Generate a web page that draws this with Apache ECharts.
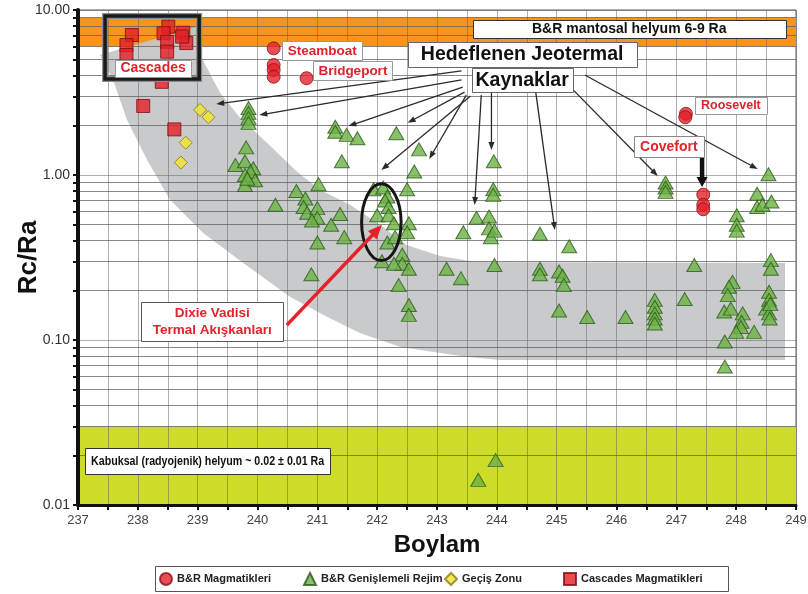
<!DOCTYPE html>
<html>
<head>
<meta charset="utf-8">
<script src="https://cdn.jsdelivr.net/npm/echarts@6/dist/echarts.min.js"></script>
<style>
  html, body { margin: 0; padding: 0; background: #fff; }
  #chart { width: 808px; height: 594px; }
</style>
</head>
<body>
<div id="chart"></div>
<script>
// ---- Data: [longitude, Rc/Ra] ----
const brMagmatic = [
  [240.27, 5.86], [240.27, 4.64], [240.27, 4.33], [240.27, 3.94], // Steamboat
  [240.82, 3.86],                                                  // Bridgeport
  [247.16, 2.35], [247.15, 2.24],                                  // Roosevelt
  [247.45, 0.76], [247.45, 0.66], [247.45, 0.62]                   // Cove Fort
];

const brExtension = [
  [239.85, 2.55], [239.85, 2.38], [239.85, 2.22], [239.85, 2.07],
  [239.81, 1.47], [239.63, 1.15], [239.79, 1.21], [239.93, 1.10], [239.88, 1.05],
  [239.79, 1.00], [239.96, 0.93], [239.79, 0.87], [239.83, 0.95],
  [240.30, 0.66], [240.65, 0.80], [240.80, 0.72], [241.02, 0.88], [240.77, 0.64],
  [240.83, 0.59], [241.00, 0.63], [241.00, 0.55], [240.91, 0.53], [241.23, 0.50],
  [241.38, 0.58], [241.00, 0.39], [241.45, 0.42], [240.90, 0.25],
  [241.30, 1.96], [241.30, 1.83], [241.49, 1.75], [241.67, 1.67], [241.41, 1.21],
  [242.32, 1.79], [242.70, 1.43], [242.62, 1.05], [242.50, 0.82], [241.94, 0.82],
  [242.10, 0.84], [242.17, 0.74], [242.13, 0.70], [242.19, 0.64], [242.00, 0.57],
  [242.19, 0.57], [242.28, 0.51], [242.17, 0.39], [242.08, 0.30], [242.53, 0.51],
  [242.50, 0.45], [242.30, 0.42], [242.42, 0.33], [242.42, 0.29], [242.53, 0.27],
  [242.28, 0.29], [242.36, 0.215], [242.53, 0.163], [242.53, 0.142],
  [243.16, 0.27], [243.40, 0.237], [243.44, 0.45], [243.66, 0.55], [243.87, 0.56],
  [243.87, 0.475], [243.90, 0.42], [243.96, 0.46], [243.95, 1.21], [243.94, 0.82],
  [243.94, 0.76], [243.96, 0.285],
  [244.72, 0.44], [245.21, 0.37], [244.72, 0.27], [244.72, 0.25], [245.04, 0.26],
  [245.10, 0.245], [245.12, 0.215], [245.04, 0.151], [245.51, 0.138],
  [246.15, 0.138], [246.64, 0.175], [246.64, 0.159], [246.64, 0.145], [246.64, 0.135],
  [246.64, 0.126], [247.14, 0.177], [247.30, 0.285], [246.82, 0.90], [246.82, 0.84],
  [246.82, 0.79],
  [248.01, 0.57], [248.01, 0.50], [248.01, 0.46], [248.35, 0.77], [248.35, 0.64],
  [248.44, 0.66], [248.59, 0.69], [248.54, 1.01], [248.58, 0.305], [248.58, 0.27],
  [248.55, 0.196], [248.55, 0.175], [248.50, 0.155], [248.55, 0.145], [248.56, 0.135],
  [248.57, 0.165],
  [247.94, 0.225], [247.88, 0.21], [247.86, 0.187], [247.80, 0.149], [247.91, 0.155],
  [248.11, 0.145], [248.09, 0.129], [248.08, 0.12], [248.00, 0.112], [248.30, 0.112],
  [247.81, 0.098], [247.81, 0.069],
  [243.69, 0.0142], [243.98, 0.0187]
];

const transitionZone = [
  [239.04, 2.48], [239.18, 2.24], [238.80, 1.57], [238.72, 1.19]
];

const cascades = [
  [237.90, 7.05], [237.81, 6.13], [237.81, 5.34],
  [238.51, 7.92], [238.43, 7.23], [238.49, 6.42], [238.49, 5.59],
  [238.76, 7.28], [238.81, 6.30], [238.74, 6.90],
  [238.40, 3.67], [238.09, 2.62], [238.61, 1.89]
];

// Trend envelope (gray band), outline in [longitude, Rc/Ra]
const bandUpper = [
  [237.368, 5.337], [238.975, 7.89], [239.042, 5.337], [239.377, 3.14], [239.711, 2.216],
  [240.163, 1.563], [240.665, 1.043], [241.050, 0.811], [241.552, 0.658], [242.054, 0.498],
  [242.490, 0.377], [243.059, 0.323], [243.644, 0.297], [248.816, 0.293]
];
const bandLower = [
  [248.816, 0.0757], [244.063, 0.0757], [243.51, 0.0789], [242.94, 0.0846], [242.39, 0.0907],
  [241.72, 0.110], [241.167, 0.1377], [240.548, 0.1822], [239.762, 0.293], [239.092, 0.445],
  [238.54, 0.706], [238.155, 1.233], [237.82, 2.154], [237.586, 3.765]
];

// Reference ranges
const mantleRange = [6, 9];      // B&R mantle helium, Ra
const crustRange = [0.01, 0.03]; // crustal (radiogenic) helium, Ra

// Axis ticks
const xRange = [237, 249];
const yTickValues = [
  0.01, 0.02, 0.03, 0.04, 0.05, 0.06, 0.07, 0.08, 0.09,
  0.1, 0.2, 0.3, 0.4, 0.5, 0.6, 0.7, 0.8, 0.9,
  1, 2, 3, 4, 5, 6, 7, 8, 9, 10
];
const yLabelValues = [0.01, 0.1, 1, 10];
const yMinorGrid = yTickValues.filter(v => yLabelValues.indexOf(v) < 0);

// Annotation anchors in data coordinates
const kaynaklarArrows = [
  [[243.41, 4.27], [239.31, 2.69]],
  [[243.41, 3.77], [240.03, 2.31]],
  [[243.43, 3.41], [241.52, 1.98]],
  [[243.46, 3.18], [242.51, 2.07]],
  [[243.49, 3.05], [242.87, 1.25]],
  [[243.56, 3.01], [242.07, 1.072]],
  [[243.74, 3.05], [243.63, 0.658]],
  [[243.91, 3.14], [243.91, 1.417]],
  [[244.65, 3.18], [244.97, 0.464]],
  [[245.28, 3.27], [246.69, 0.986]],
  [[245.47, 4.04], [248.36, 1.086]]
];
const coveFortArrow = [[247.43, 1.27], [247.43, 0.846]];
const dixieArrow = [[240.49, 0.123], [242.08, 0.497]];
const dixieEllipse = { left: 241.74, right: 242.40, top: 0.884, bottom: 0.303 };
const cascadesFrame = { left: 237.452, right: 239.025, top: 9.20, bottom: 3.82 };

const FONT = "'Liberation Sans', Arial, Helvetica, sans-serif";
const RED = '#e0232b';

const labels = [
  { at: [246.213, 7.67], w: 313, h: 18, text: 'B&R mantosal helyum 6-9 Ra', size: 14, color: '#111', border: '#333' },
  { at: [238.255, 4.45], w: 76, h: 17, text: 'Cascades', size: 14, color: RED, border: '#999' },
  { at: [241.084, 5.68], w: 80, h: 19, text: 'Steamboat', size: 13.5, color: RED, border: '#999' },
  { at: [241.594, 4.30], w: 79, h: 19, text: 'Bridgeport', size: 13.5, color: RED, border: '#999' },
  { at: [244.423, 5.37], w: 229, h: 25, text: 'Hedeflenen Jeotermal', size: 19.5, color: '#111', border: '#666' },
  { at: [244.423, 3.77], w: 101, h: 24, text: 'Kaynaklar', size: 19.5, color: '#111', border: '#666' },
  { at: [247.912, 2.64], w: 72, h: 17, text: 'Roosevelt', size: 12.5, color: RED, border: '#999' },
  { at: [246.874, 1.49], w: 70, h: 21, text: 'Covefort', size: 14, color: RED, border: '#888' },
  { at: [239.243, 0.1295], w: 142, h: 39, text: 'Dixie Vadisi\nTermal Akışkanları', size: 13.5, color: RED, border: '#555' },
  { at: [239.167, 0.01848], w: 245, h: 26, text: 'Kabuksal (radyojenik) helyum ~ 0.02 ± 0.01 Ra', size: 13.5, color: '#111', border: '#333', squeeze: 0.79 }
];

// Legend entries and the left edge of each entry's icon
const legendItems = [
  { name: 'B&R Magmatikleri', icon: 'circle', left: 159 },
  { name: 'B&R Genişlemeli Rejim', icon: 'triangle', left: 303 },
  { name: 'Geçiş Zonu', icon: 'diamond', left: 444 },
  { name: 'Cascades Magmatikleri', icon: 'rect', left: 563 }
];
const legendFrame = { x: 155, y: 566, w: 573, h: 25 };

const chart = echarts.init(document.getElementById('chart'), null, { renderer: 'canvas' });

const gridLineColor = 'rgba(95,95,95,0.5)';

const option = {
  animation: false,
  backgroundColor: '#fff',
  textStyle: { fontFamily: FONT },
  grid: {
    left: 78, right: 12, top: 10, bottom: 89,
    containLabel: false,
    outerBoundsMode: 'none',
    show: true, borderColor: '#555', borderWidth: 1, backgroundColor: '#fff'
  },
  legend: legendItems.map(it => ({
    left: it.left, top: 572,
    padding: 0,
    itemGap: 0,
    itemWidth: 12, itemHeight: 12,
    textStyle: { fontSize: 11, fontWeight: 'bold', color: '#222', fontFamily: FONT },
    data: [{ name: it.name, icon: it.icon }]
  })),
  xAxis: {
    type: 'value',
    min: xRange[0], max: xRange[1], interval: 0.5,
    z: 3,
    name: 'Boylam', nameLocation: 'middle', nameGap: 28, nameMoveOverlap: false,
    nameTextStyle: { fontSize: 24, fontWeight: 'bold', color: '#111', fontFamily: FONT },
    axisLine: { show: true, onZero: false, lineStyle: { color: '#111', width: 3 } },
    axisTick: { show: true, length: 5, lineStyle: { color: '#111', width: 2 } },
    axisLabel: {
      color: '#444', fontSize: 13, margin: 9, fontFamily: FONT,
      formatter: v => (Math.abs(v - Math.round(v)) < 1e-9 ? String(Math.round(v)) : '')
    },
    splitLine: { show: true, lineStyle: { color: gridLineColor, width: 1 } }
  },
  yAxis: {
    type: 'log', logBase: 10,
    min: 0.01, max: 10,
    z: 3,
    name: 'Rc/Ra', nameLocation: 'middle', nameGap: 36, nameMoveOverlap: false,
    nameTextStyle: { fontSize: 26, fontWeight: 'bold', color: '#111', fontFamily: FONT },
    axisLine: { show: true, onZero: false, lineStyle: { color: '#111', width: 4 } },
    axisTick: { show: true, length: 5, customValues: yTickValues, lineStyle: { color: '#111', width: 2 } },
    axisLabel: {
      customValues: yLabelValues, color: '#333', fontSize: 14, margin: 8, fontFamily: FONT,
      formatter: v => Number(v).toFixed(2)
    },
    splitLine: { show: true, lineStyle: { color: gridLineColor, width: 1 } }
  },
  series: [
    {
      // reference helium ranges and minor log grid lines
      type: 'custom',
      name: 'ranges',
      z: 1,
      silent: true,
      data: [],
      renderItem: () => null,
      markArea: {
        silent: true,
        z: 1,
        data: [
          [{ yAxis: mantleRange[0], itemStyle: { color: '#f7941d' } }, { yAxis: mantleRange[1] }],
          [{ yAxis: crustRange[0], itemStyle: { color: '#cddc29' } }, { yAxis: crustRange[1] }]
        ]
      },
      markLine: {
        silent: true,
        z: 3,
        symbol: 'none',
        label: { show: false },
        lineStyle: { color: gridLineColor, width: 1, type: 'solid' },
        emphasis: { disabled: true },
        data: yMinorGrid.map(v => ({ yAxis: v }))
      }
    },
    {
      // curved gray trend envelope
      type: 'custom',
      name: 'band',
      z: 2,
      silent: true,
      data: [0],
      renderItem: (params, api) => {
        const pts = bandUpper.concat(bandLower).map(p => api.coord(p));
        return {
          type: 'polygon',
          shape: { points: pts, smooth: 0 },
          style: { fill: 'rgba(196,197,200,0.92)' }
        };
      }
    },
    {
      name: 'B&R Magmatikleri',
      type: 'scatter',
      z: 5,
      symbol: 'circle',
      symbolSize: 13,
      itemStyle: { color: '#e3202a', borderColor: '#8c1016', borderWidth: 1 },
      data: brMagmatic
    },
    {
      name: 'B&R Genişlemeli Rejim',
      type: 'scatter',
      z: 5,
      symbol: 'triangle',
      symbolSize: [15, 13],
      itemStyle: { color: '#6cb244', borderColor: '#2c5a1a', borderWidth: 1 },
      data: brExtension
    },
    {
      name: 'Geçiş Zonu',
      type: 'scatter',
      z: 5,
      symbol: 'diamond',
      symbolSize: 13,
      itemStyle: { color: '#f3e52b', borderColor: '#8a7b12', borderWidth: 1 },
      data: transitionZone
    },
    {
      name: 'Cascades Magmatikleri',
      type: 'scatter',
      z: 5,
      symbol: 'rect',
      symbolSize: 13,
      itemStyle: { color: '#e31e25', borderColor: '#7a0f12', borderWidth: 1 },
      data: cascades
    }
  ]
};

chart.setOption(option);

// ---- Annotations (placed through the chart's own coordinate system) ----
const toPx = p => chart.convertToPixel({ gridIndex: 0 }, p);

function arrow(a, b, color, lw, hl, hw) {
  const dx = b[0] - a[0], dy = b[1] - a[1];
  const L = Math.hypot(dx, dy), ux = dx / L, uy = dy / L;
  const base = [b[0] - ux * hl, b[1] - uy * hl];
  return [
    { type: 'line', z: 100, silent: true,
      shape: { x1: a[0], y1: a[1], x2: base[0] + ux, y2: base[1] + uy },
      style: { stroke: color, lineWidth: lw } },
    { type: 'polygon', z: 100, silent: true,
      shape: { points: [b, [base[0] - uy * hw / 2, base[1] + ux * hw / 2], [base[0] + uy * hw / 2, base[1] - ux * hw / 2]] },
      style: { fill: color } }
  ];
}

const els = [];

// Legend frame around the four legend entries
els.push({ type: 'rect', z: 50, silent: true,
  shape: { x: legendFrame.x + 0.5, y: legendFrame.y + 0.5, width: legendFrame.w, height: legendFrame.h },
  style: { fill: null, stroke: '#555', lineWidth: 1 } });

// Cascades frame: heavy dark border with light outline
{
  const tl = toPx([cascadesFrame.left, cascadesFrame.top]);
  const br = toPx([cascadesFrame.right, cascadesFrame.bottom]);
  els.push({ type: 'rect', z: 90, silent: true,
    shape: { x: tl[0], y: tl[1], width: br[0] - tl[0], height: br[1] - tl[1] },
    style: { fill: null, stroke: '#8a8a8a', lineWidth: 6 } });
  els.push({ type: 'rect', z: 91, silent: true,
    shape: { x: tl[0], y: tl[1], width: br[0] - tl[0], height: br[1] - tl[1] },
    style: { fill: null, stroke: '#1a1a1a', lineWidth: 3.5 } });
}

// Dixie Valley ellipse
{
  const tl = toPx([dixieEllipse.left, dixieEllipse.top]);
  const br = toPx([dixieEllipse.right, dixieEllipse.bottom]);
  els.push({ type: 'ellipse', z: 95, silent: true,
    shape: { cx: (tl[0] + br[0]) / 2, cy: (tl[1] + br[1]) / 2, rx: (br[0] - tl[0]) / 2, ry: (br[1] - tl[1]) / 2 },
    style: { fill: null, stroke: '#151515', lineWidth: 3 } });
}

// Arrows
kaynaklarArrows.forEach(([s, e]) => {
  arrow(toPx(s), toPx(e), '#2a2a2a', 1.3, 8, 6).forEach(x => els.push(x));
});
arrow(toPx(coveFortArrow[0]), toPx(coveFortArrow[1]), '#111', 4.5, 10, 11).forEach(x => els.push(x));
arrow(toPx(dixieArrow[0]), toPx(dixieArrow[1]), '#e8202a', 3.5, 14, 12).forEach(x => els.push(x));

// Label boxes
labels.forEach(l => {
  const c = toPx(l.at);
  els.push({ type: 'rect', z: 110, silent: true,
    shape: { x: Math.round(c[0] - l.w / 2) + 0.5, y: Math.round(c[1] - l.h / 2) + 0.5, width: l.w, height: l.h },
    style: { fill: '#fff', stroke: l.border, lineWidth: 1 } });
  els.push({ type: 'text', z: 111, silent: true,
    x: c[0], y: c[1] + 0.5,
    scaleX: l.squeeze || 1,
    style: {
      text: l.text, align: 'center', verticalAlign: 'middle',
      font: 'bold ' + l.size + 'px ' + FONT,
      fill: l.color, lineHeight: Math.round(l.size * 1.25)
    } });
});

chart.setOption({ graphic: { elements: els } });
</script>
</body>
</html>
